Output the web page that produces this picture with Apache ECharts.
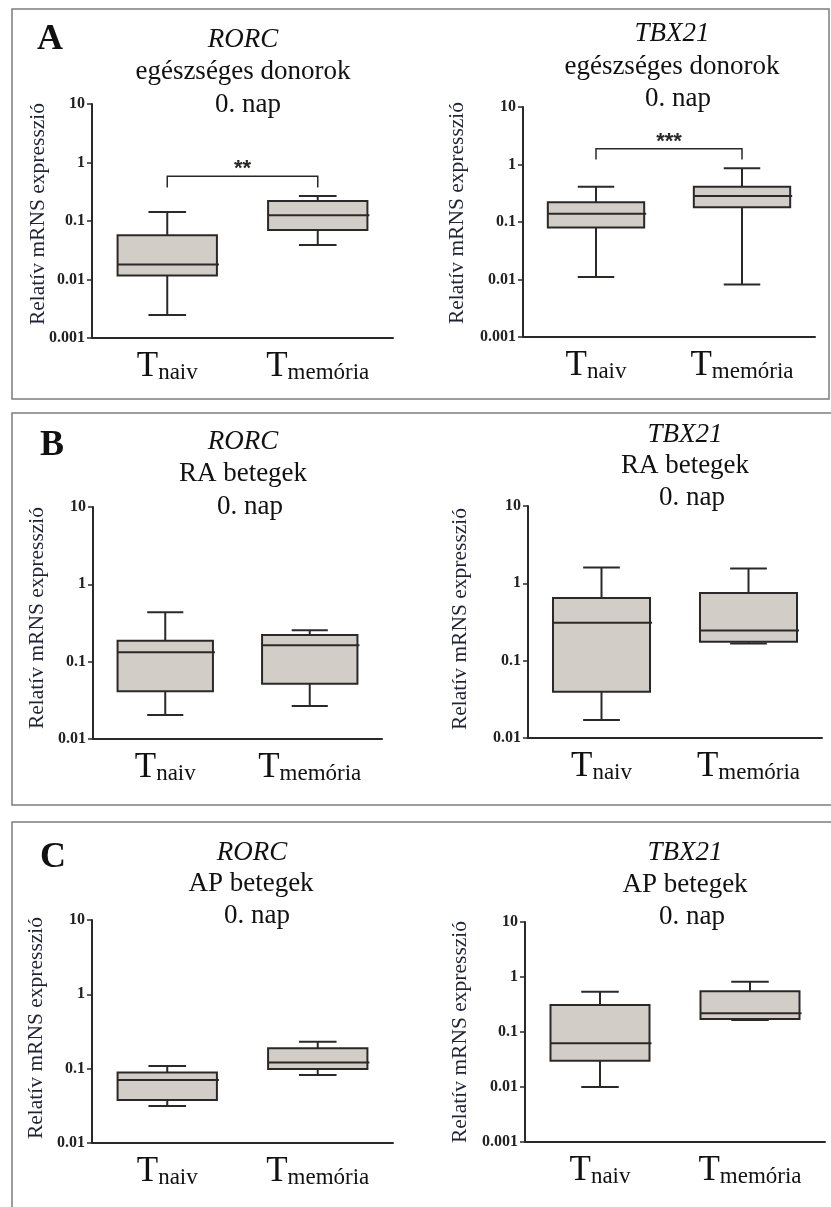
<!DOCTYPE html>
<html>
<head>
<meta charset="utf-8">
<script src="https://cdn.jsdelivr.net/npm/echarts@6/dist/echarts.min.js"></script>
<style>
  html, body { margin: 0; padding: 0; background: #ffffff; }
  #chart { width: 831px; height: 1207px; }
</style>
</head>
<body>
<div id="chart"></div>
<script>
// Cell populations on the x axis (subscript after "T")
const groups = ['naiv', 'memória'];

// Log-axis tick labels, keyed by decade exponent
const yTickLabels = { '-3': '0.001', '-2': '0.01', '-1': '0.1', '0': '1', '1': '10' };

// Box statistics per population: [min, Q1, median, Q3, max]
const rorcHealthy  = [[0.00247, 0.0117, 0.018, 0.0569, 0.143], [0.039, 0.070, 0.125, 0.22, 0.267]];
const tbx21Healthy = [[0.011, 0.080, 0.139, 0.22, 0.41],       [0.0082, 0.18, 0.283, 0.41, 0.86]];
const rorcRA       = [[0.0204, 0.0413, 0.132, 0.187, 0.434],   [0.0267, 0.052, 0.163, 0.221, 0.254]];
const tbx21RA      = [[0.0171, 0.0397, 0.31, 0.645, 1.6],      [0.167, 0.175, 0.246, 0.75, 1.56]];
const rorcAP       = [[0.0315, 0.0379, 0.0705, 0.089, 0.109],  [0.0823, 0.099, 0.1215, 0.188, 0.231]];
const tbx21AP      = [[0.010, 0.0301, 0.0623, 0.31, 0.54],     [0.166, 0.172, 0.219, 0.55, 0.82]];

// Significance brackets: [bracket level, drop level]
const sigRorcHealthy  = [0.583, 0.374];
const sigTbx21Healthy = [1.88, 1.22];

const SERIF = '"Liberation Serif", "Times New Roman", serif';
const INK = '#2b2928';
const BOX_FILL = '#d3cdc8';
const Y_NAME = 'Relatív mRNS expresszió';

// Panel layout: plot rectangle, y range, title and axis-name anchors
const panels = [
  { data: rorcHealthy,  yMin: 0.001, grid: [92, 104, 301, 234],  gene: 'RORC',  group: 'egészséges donorok',
    titleX: [243, 243, 248], titleY: [40, 72, 105], yName: [38, 214], sig: sigRorcHealthy, sigLabel: '**' },
  { data: tbx21Healthy, yMin: 0.001, grid: [523, 107, 292, 230], gene: 'TBX21', group: 'egészséges donorok',
    titleX: [672, 672, 678], titleY: [34, 67, 99], yName: [457, 213], sig: sigTbx21Healthy, sigLabel: '***' },
  { data: rorcRA,       yMin: 0.01,  grid: [93, 507, 289, 232],  gene: 'RORC',  group: 'RA betegek',
    titleX: [243, 243, 250], titleY: [442, 474, 507], yName: [37, 618] },
  { data: tbx21RA,      yMin: 0.01,  grid: [528, 506, 294, 232], gene: 'TBX21', group: 'RA betegek',
    titleX: [685, 685, 692], titleY: [435, 466, 498], yName: [460, 619] },
  { data: rorcAP,       yMin: 0.01,  grid: [92, 920, 301, 223],  gene: 'RORC',  group: 'AP betegek',
    titleX: [252, 251, 257], titleY: [853, 884, 916], yName: [36, 1028] },
  { data: tbx21AP,      yMin: 0.001, grid: [525, 922, 300, 220], gene: 'TBX21', group: 'AP betegek',
    titleX: [685, 685, 692], titleY: [853, 885, 917], yName: [460, 1032] }
];

function renderBox(params, api) {
  const c = api.value(0);
  const v = [1, 2, 3, 4, 5].map(i => api.value(i));
  const px = api.coord([c, v[2]])[0];
  const band = Math.abs(api.coord([1, v[2]])[0] - api.coord([0, v[2]])[0]);
  const bw = band * 0.66, cw = band * 0.25;
  const y = v.map(val => api.coord([c, val])[1]);
  const ls = { stroke: INK, lineWidth: 2 };
  return {
    type: 'group',
    children: [
      { type: 'line', shape: { x1: px, y1: y[4], x2: px, y2: y[3] }, style: ls },
      { type: 'line', shape: { x1: px, y1: y[1], x2: px, y2: y[0] }, style: ls },
      { type: 'line', shape: { x1: px - cw / 2, y1: y[4], x2: px + cw / 2, y2: y[4] }, style: ls },
      { type: 'line', shape: { x1: px - cw / 2, y1: y[0], x2: px + cw / 2, y2: y[0] }, style: ls },
      { type: 'rect', shape: { x: px - bw / 2, y: y[3], width: bw, height: y[1] - y[3] },
        style: { fill: BOX_FILL, stroke: INK, lineWidth: 2 } },
      { type: 'line', shape: { x1: px - bw / 2, y1: y[2], x2: px + bw / 2 + 2, y2: y[2] }, style: ls }
    ]
  };
}

function makeBracketRenderer(label) {
  return function (params, api) {
    const top = api.value(2), drop = api.value(3);
    const a = api.coord([api.value(0), top]);
    const b = api.coord([api.value(1), top]);
    const yd = api.coord([api.value(0), drop])[1];
    return {
      type: 'group',
      children: [
        { type: 'polyline',
          shape: { points: [[a[0], yd], [a[0], a[1]], [b[0], b[1]], [b[0], yd]] },
          style: { stroke: INK, lineWidth: 1.5, fill: null } },
        { type: 'text', x: (a[0] + b[0]) / 2, y: a[1] + 4,
          style: { text: label, fill: INK, font: 'bold 22px "Liberation Sans", Arial, sans-serif',
                   textAlign: 'center', textVerticalAlign: 'bottom' } }
      ]
    };
  };
}

const grids = [], xAxes = [], yAxes = [], series = [], graphics = [];

panels.forEach((p, i) => {
  grids.push({ left: p.grid[0], top: p.grid[1], width: p.grid[2], height: p.grid[3],
               containLabel: false, outerBoundsMode: 'none' });
  xAxes.push({
    type: 'category', gridIndex: i, data: groups, boundaryGap: true,
    axisLine: { lineStyle: { color: INK, width: 2 } },
    axisTick: { show: false },
    axisLabel: {
      margin: 10, interval: 0,
      formatter: g => '{t|T}{s|' + g + '}',
      rich: {
        t: { fontFamily: SERIF, fontSize: 35, color: '#111', verticalAlign: 'bottom', lineHeight: 36 },
        s: { fontFamily: SERIF, fontSize: 23, color: '#111', verticalAlign: 'bottom', lineHeight: 18 }
      }
    },
    splitLine: { show: false }
  });
  yAxes.push({
    type: 'log', logBase: 10, gridIndex: i, min: p.yMin, max: 10,
    axisLine: { show: true, lineStyle: { color: INK, width: 2 } },
    axisTick: { show: true, length: 5, lineStyle: { color: INK, width: 1.5 } },
    axisLabel: {
      margin: 7, fontFamily: SERIF, fontSize: 16, fontWeight: 'bold', color: '#222',
      formatter: v => yTickLabels[String(Math.round(Math.log10(v)))] || ''
    },
    splitLine: { show: false },
    minorTick: { show: false }
  });
  series.push({
    type: 'custom', xAxisIndex: i, yAxisIndex: i, clip: false,
    renderItem: renderBox,
    encode: { x: 0, y: [1, 2, 3, 4, 5] },
    data: p.data.map((stats, k) => [k].concat(stats))
  });
  if (p.sig) {
    series.push({
      type: 'custom', xAxisIndex: i, yAxisIndex: i, clip: false,
      renderItem: makeBracketRenderer(p.sigLabel),
      encode: { x: [0, 1], y: [2, 3] },
      data: [[0, 1, p.sig[0], p.sig[1]]]
    });
  }
  const lines = [
    { text: p.gene, font: 'italic 27px ' + SERIF },
    { text: p.group, font: '27px ' + SERIF },
    { text: '0. nap', font: '27px ' + SERIF }
  ];
  lines.forEach((ln, k) => {
    graphics.push({
      type: 'text', x: p.titleX[k], y: p.titleY[k], silent: true,
      style: { text: ln.text, font: ln.font, fill: '#111', textAlign: 'center', textVerticalAlign: 'middle' }
    });
  });
  // Vertical y-axis title
  graphics.push({
    type: 'text', x: p.yName[0], y: p.yName[1], rotation: Math.PI / 2, silent: true,
    style: { text: Y_NAME, font: '21.5px ' + SERIF, fill: '#1f2336',
             textAlign: 'center', textVerticalAlign: 'middle' }
  });
});

// Panel frames and letters
[[12, 9, 817, 390], [12, 413, 823, 392], [12, 822, 830, 400]].forEach(r => {
  graphics.push({ type: 'rect', shape: { x: r[0], y: r[1], width: r[2], height: r[3] }, silent: true,
                  style: { fill: null, stroke: '#7d7d7d', lineWidth: 1.5 } });
});
[['A', 50, 40], ['B', 52, 446], ['C', 53, 858]].forEach(l => {
  graphics.push({ type: 'text', x: l[1], y: l[2], silent: true,
                  style: { text: l[0], font: 'bold 36px ' + SERIF, fill: '#111',
                           textAlign: 'center', textVerticalAlign: 'middle' } });
});

const chart = echarts.init(document.getElementById('chart'), null, { renderer: 'canvas' });
chart.setOption({
  backgroundColor: '#ffffff',
  animation: false,
  grid: grids,
  xAxis: xAxes,
  yAxis: yAxes,
  series: series,
  graphic: { elements: graphics }
});
</script>
</body>
</html>
